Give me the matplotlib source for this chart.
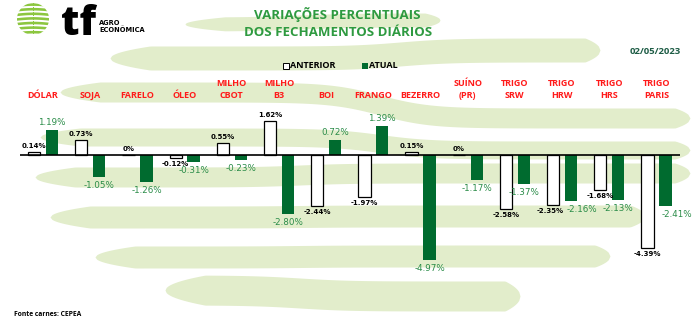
import numpy as np
import matplotlib
matplotlib.use('Agg')
import matplotlib.pyplot as plt
from matplotlib.transforms import blended_transform_factory
from matplotlib.patches import Circle, Rectangle

# Data
categories = ['DÓLAR', 'SOJA', 'FARELO', 'ÓLEO', 'MILHO\nCBOT', 'MILHO\nB3', 'BOI',
              'FRANGO', 'BEZERRO', 'SUÍNO\n(PR)', 'TRIGO\nSRW', 'TRIGO\nHRW',
              'TRIGO\nHRS', 'TRIGO\nPARIS']
anterior = [0.14, 0.73, 0, -0.12, 0.55, 1.62, -2.44, -1.97, 0.15, 0, -2.58, -2.35, -1.68, -4.39]
atual = [1.19, -1.05, -1.26, -0.31, -0.23, -2.80, 0.72, 1.39, -4.97, -1.17, -1.37, -2.16, -2.13, -2.41]

title1 = 'VARIAÇÕES PERCENTUAIS'
title2 = 'DOS FECHAMENTOS DIÁRIOS'
date_txt = '02/05/2023'
source_txt = 'Fonte carnes: CEPEA'

GREEN_BAR = '#006b2f'
GREEN_LBL = '#2a8c48'
RED = '#ff1a1a'
BG_GREEN = '#e2edcb'

W, H = 694, 330
fig = plt.figure(figsize=(W / 100, H / 100), dpi=100)

# background layer in pixel coords (y down)
bg = fig.add_axes([0, 0, 1, 1])
bg.set_xlim(0, W)
bg.set_ylim(H, 0)
bg.axis('off')


def band(x0, x1, yl, yr, xb, t, lt=40, rt=15):
    xs = np.linspace(x0, x1, 300)
    c = yl + (yr - yl) / (1 + np.exp(-(xs - xb) / 25))
    th = t * np.clip((xs - x0) / lt, 0, 1) ** 0.5 * np.clip((x1 - xs) / rt, 0, 1) ** 0.5
    bg.fill_between(xs, c - th / 2, c + th / 2, color=BG_GREEN, lw=0, zorder=0)


# decorative stripes (rough)
band(185, 440, 24, 20, 300, 14)
band(110, 600, 58, 50, 400, 24)
band(60, 690, 92, 118, 380, 20)
band(40, 690, 137, 150, 380, 18)
band(35, 690, 177, 173, 300, 20)
band(50, 645, 217, 216, 300, 22)
band(95, 610, 257, 256, 300, 22)
band(165, 520, 290, 296, 300, 30)

# logo
circ = Circle((33, 19), 16, transform=bg.transData)
for k in range(7):
    yy = 4 + k * 4.6
    xs = np.linspace(15, 51, 50)
    off = 1.2 * np.sin((xs - 15) / 36 * np.pi)
    p = bg.fill_between(xs, yy - off, yy + 2.6 - off, color='#8cc63f', lw=0)
    p.set_clip_path(circ)
fig.text(61 / W, 1 - 35 / H, 'tf', fontsize=29, fontweight='heavy', family='Open Sans',
         color='black', va='baseline')
fig.text(99 / W, 1 - 23 / H, 'AGRO', fontsize=4.8, fontweight='bold', color='black', va='center')
fig.text(99 / W, 1 - 30 / H, 'ECONÔMICA', fontsize=4.8, fontweight='bold', color='black', va='center')

# titles
fig.text(337 / W, 1 - 15 / H, title1, fontsize=9.5, fontweight='bold', family='Open Sans',
         color='#2e9a40', ha='center', va='center')
fig.text(338 / W, 1 - 33 / H, title2, fontsize=9.5, fontweight='bold', family='Open Sans',
         color='#2e9a40', ha='center', va='center')
fig.text(655 / W, 1 - 52 / H, date_txt, fontsize=6.8, fontweight='bold', family='Open Sans',
         color='#1d5c45', ha='center', va='center')
fig.text(14 / W, 1 - 314 / H, source_txt, fontsize=4.9, fontweight='bold', family='Open Sans',
         color='black', va='center')

# legend
bg.add_patch(Rectangle((283, 63), 6, 6, facecolor='white', edgecolor='black', lw=0.7))
fig.text(290 / W, 1 - 66 / H, 'ANTERIOR', fontsize=6.5, fontweight='bold', family='Open Sans',
         color='black', va='center')
bg.add_patch(Rectangle((362, 63), 6, 6, facecolor=GREEN_BAR, edgecolor='none'))
fig.text(369 / W, 1 - 66 / H, 'ATUAL', fontsize=6.5, fontweight='bold', family='Open Sans',
         color='black', va='center')

# main axes
scale = 21.1
top_px, bot_px, zero_px = 105, 300, 155
ax = fig.add_axes([19.5 / W, 1 - bot_px / H, 660.5 / W, (bot_px - top_px) / H])
ax.set_xlim(-0.5, len(categories) - 0.5)
ax.set_ylim(-(bot_px - zero_px) / scale, (zero_px - top_px) / scale)
ax.axis('off')
ax.patch.set_alpha(0)

x = np.arange(len(categories))
ax.bar(x - 0.19, anterior, width=0.26, facecolor='white', edgecolor='black', lw=0.9, zorder=3)
ax.bar(x + 0.19, atual, width=0.26, color=GREEN_BAR, zorder=3)
ax.axhline(0, color='black', lw=1.2, zorder=4)


def fmt(v):
    return '0%' if v == 0 else f'{v:.2f}%'


# small sideways nudges (px) for crowded labels
nudge_ant = {11: -3}
nudge_atu = {11: 11, 13: 12}

for i, v in enumerate(anterior):
    dy = 3 if v >= 0 else -3
    ax.annotate(fmt(v), (i - 0.19, v), xytext=(nudge_ant.get(i, 0) * 0.72, dy * 0.72),
                textcoords='offset points',
                ha='center', va='bottom' if v >= 0 else 'top', fontsize=5,
                fontweight='bold', color='black', zorder=5)
for i, v in enumerate(atual):
    dy = 3 if v >= 0 else -4
    ax.annotate(fmt(v), (i + 0.19, v), xytext=(nudge_atu.get(i, 0) * 0.72, dy * 0.72),
                textcoords='offset points',
                ha='center', va='bottom' if v >= 0 else 'top', fontsize=6.3,
                color=GREEN_LBL, zorder=5)

# category names
tr = blended_transform_factory(ax.transData, fig.transFigure)
for i, name in enumerate(categories):
    lines = name.split('\n')
    for j, ln in enumerate(reversed(lines)):
        ax.text(i, 1 - (96 - 12 * j) / H, ln, transform=tr, ha='center', va='center',
                fontsize=6.5, fontweight='bold', family='Open Sans', color=RED)

fig.savefig('out.png', dpi=100)
